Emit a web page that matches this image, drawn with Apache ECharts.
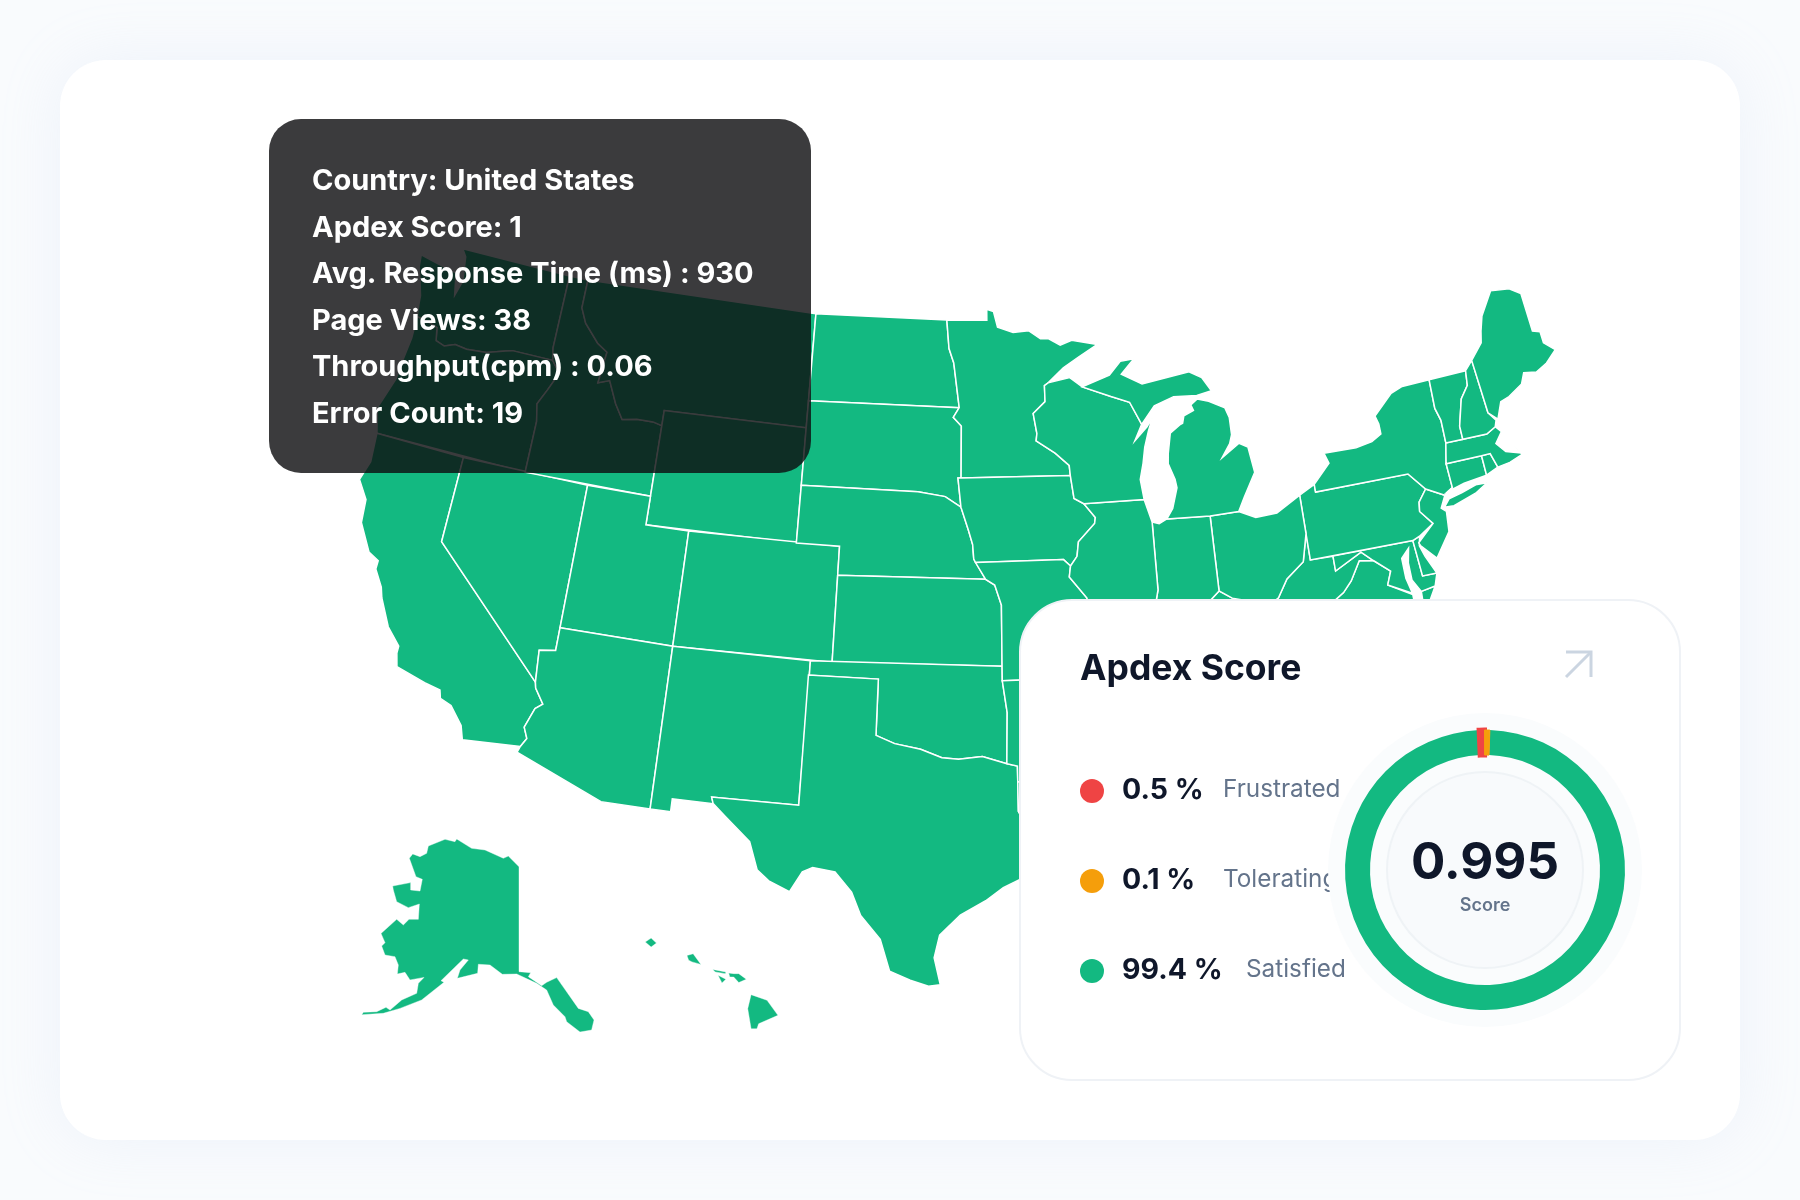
<!DOCTYPE html>
<html>
<head>
<meta charset="utf-8">
<title>Apdex Score</title>
<style>
    html, body { margin: 0; padding: 0; background: #f9fbfd; }
    #chart { width: 1800px; height: 1200px; }
</style>
<script src="https://cdn.jsdelivr.net/npm/echarts@6/dist/echarts.min.js"></script>
</head>
<body>
<div id="chart"></div>
<script>
(function() {

    // tooltip and score card content
    var tooltipLines = [
        'Country: United States',
        'Apdex Score: 1',
        'Avg. Response Time (ms) : 930',
        'Page Views: 38',
        'Throughput(cpm) : 0.06',
        'Error Count: 19'
    ];
    var cardTitle = 'Apdex Score';
    var scoreValue = '0.995';
    var scoreLabel = 'Score';
    var apdexNames = ['Frustrated', 'Tolerating', 'Satisfied'];
    var apdexValues = [0.5, 0.1, 99.4];
    var apdexColors = ['#ef4444', '#f59e0b', '#13b981'];

    // state outlines, lon/lat pairs, one list per ring
    var WA = [[-124.73,48.38,-123.1,48.15,-122.75,48.12,-122.5,47.35,-122.3,47.9,-122.5,48.75,-122.76,49,-117.03,49,-117.04,46.42,-116.92,45.99,-118.98,46,-119.3,45.93,-120.2,45.72,-121.2,45.65,-121.8,45.7,-122.3,45.55,-122.76,45.65,-122.9,46.1,-123.4,46.2,-124,46.27,-124.1,46.7,-124.15,47,-124.4,47.5,-124.65,47.95]];
    var OR = [[-124,46.27,-123.4,46.2,-122.9,46.1,-122.76,45.65,-122.3,45.55,-121.8,45.7,-121.2,45.65,-120.2,45.72,-119.3,45.93,-118.98,46,-116.92,45.99,-116.46,45.6,-116.85,44.95,-117.2,44.4,-117.03,43.8,-117.03,42,-124.21,42,-124.55,42.84,-124.1,44,-124.05,44.7,-123.95,45.5]];
    var CA = [[-124.21,42,-120,42,-120,39,-114.63,35,-114.57,34.8,-114.14,34.3,-114.43,34.1,-114.72,33.4,-114.52,33.03,-114.72,32.72,-117.12,32.53,-117.3,33,-117.9,33.6,-118.4,33.75,-118.5,34.03,-119.2,34.15,-120.5,34.45,-120.65,34.9,-120.65,35.15,-121.3,35.7,-121.9,36.6,-122.05,36.95,-122.5,37.5,-122.5,37.8,-123,38,-123.7,38.9,-123.8,39.7,-124.35,40.3,-124.1,41]];
    var NV = [[-120,42,-114.04,42,-114.04,36.2,-114.74,36.1,-114.63,35,-120,39]];
    var ID = [[-117.03,49,-116.05,49,-116.05,48,-115.7,47.5,-114.9,46.9,-114.35,46.65,-114.5,45.55,-113.95,45.7,-113.45,44.95,-113,44.45,-112.3,44.55,-111.5,44.55,-111.05,44.47,-111.05,42,-117.03,42,-117.03,43.8,-117.2,44.4,-116.85,44.95,-116.46,45.6,-116.92,45.99,-117.04,46.42]];
    var MT = [[-116.05,49,-104.05,49,-104.05,45,-111.05,45,-111.05,44.47,-111.5,44.55,-112.3,44.55,-113,44.45,-113.45,44.95,-113.95,45.7,-114.5,45.55,-114.35,46.65,-114.9,46.9,-115.7,47.5,-116.05,48]];
    var WY = [[-111.05,45,-104.05,45,-104.05,41,-111.05,41]];
    var UT = [[-114.04,42,-111.05,42,-111.05,41,-109.05,41,-109.05,37,-114.04,37]];
    var CO = [[-109.05,41,-102.05,41,-102.05,37,-109.05,37]];
    var AZ = [[-114.04,37,-109.05,37,-109.05,31.33,-111.07,31.33,-114.81,32.5,-114.72,32.72,-114.52,33.03,-114.72,33.4,-114.43,34.1,-114.14,34.3,-114.57,34.8,-114.63,35,-114.74,36.1,-114.04,36.2]];
    var NM = [[-109.05,37,-103,37,-103.04,32,-106.62,32,-106.53,31.78,-108.21,31.78,-108.21,31.33,-109.05,31.33]];
    var ND = [[-104.05,49,-97.23,49,-97.1,48,-96.85,47.5,-96.56,45.94,-104.05,45.94]];
    var SD = [[-104.05,45.94,-96.56,45.94,-96.85,45.6,-96.45,45.3,-96.45,43.5,-96.6,43.5,-96.45,42.49,-97.2,42.85,-98.5,43,-104.05,43]];
    var NE = [[-104.05,43,-98.5,43,-97.2,42.85,-96.45,42.49,-96.1,41.7,-95.9,41.2,-95.85,40.7,-95.31,40,-102.05,40,-102.05,41,-104.05,41]];
    var KS = [[-102.05,40,-95.31,40,-94.9,39.8,-94.61,39.11,-94.62,37,-102.05,37]];
    var OK = [[-103,37,-94.62,37,-94.62,36.5,-94.43,35.4,-94.48,33.64,-95.5,33.9,-96.5,33.8,-97.2,33.85,-98.1,34.13,-99.2,34.3,-100,34.56,-100,36.5,-103,36.5]];
    var TX = [[-103.04,36.5,-100,36.5,-100,34.56,-99.2,34.3,-98.1,34.13,-97.2,33.85,-96.5,33.8,-95.5,33.9,-94.48,33.64,-94.04,33.55,-94.04,33,-94.04,31.99,-93.55,31.2,-93.7,30.1,-93.85,29.7,-94.7,29.35,-95.4,28.9,-96.4,28.4,-97.2,27.7,-97.4,26.9,-97.15,25.96,-97.6,25.9,-98.3,26.1,-99.1,26.4,-99.5,27.5,-100.3,28.3,-100.7,29.1,-101.4,29.77,-102.3,29.88,-102.7,29.7,-103.15,28.98,-104,29.3,-104.5,29.65,-104.9,30.6,-106,31.4,-106.53,31.78,-106.62,32,-103.04,32]];
    var MN = [[-97.23,49,-95.15,49,-95.15,49.38,-94.8,49.3,-94.6,48.75,-93.8,48.55,-93,48.6,-92.4,48.3,-92,48.3,-91.4,48.05,-90.8,48.2,-89.5,48,-90.5,47.6,-91.3,47.25,-92.1,46.75,-92.29,46.66,-92.29,46.1,-92.9,45.7,-92.75,45,-92.8,44.75,-91.9,44.3,-91.25,43.85,-91.22,43.5,-96.45,43.5,-96.45,45.3,-96.85,45.6,-96.56,45.94,-96.85,47.5,-97.1,48]];
    var IA = [[-96.6,43.5,-96.45,43.5,-91.22,43.5,-91.1,42.7,-90.65,42.5,-90.15,42,-90.2,41.8,-91,41.2,-91.1,40.7,-91.42,40.38,-91.73,40.61,-95.77,40.58,-95.85,40.7,-95.9,41.2,-96.1,41.7,-96.45,42.49]];
    var MO = [[-95.77,40.58,-91.73,40.61,-91.42,40.38,-91.5,40,-90.75,39.25,-90.7,38.9,-90.2,38.7,-90.2,38.3,-89.5,37.3,-89.15,37,-89.4,36.5,-89.7,36,-90.37,36,-90.15,36.5,-94.62,36.5,-94.62,37,-94.61,39.11,-94.9,39.8,-95.31,40]];
    var AR = [[-94.62,36.5,-90.15,36.5,-90.37,36,-89.7,36,-90.1,35.1,-90.6,34.7,-91.1,33.9,-91.17,33,-94.04,33,-94.04,33.55,-94.48,33.64,-94.43,35.4]];
    var LA = [[-94.04,33,-91.17,33,-91,32.4,-91.6,31,-89.73,31,-89.6,30.2,-89.4,29.8,-89.1,29.1,-90.2,29.1,-91.3,29.4,-92.2,29.55,-93.85,29.7,-93.7,30.1,-93.55,31.2,-94.04,31.99]];
    var MS = [[-90.1,35.1,-88.2,35,-88.1,34.9,-88.47,31.9,-88.4,30.2,-89.6,30.2,-89.73,31,-91.6,31,-91,32.4,-91.17,33,-91.1,33.9,-90.6,34.7]];
    var AL = [[-88.2,35,-85.6,35,-85.18,32.87,-85,32.3,-85,31,-87.6,31,-87.5,30.3,-88.4,30.2,-88.47,31.9,-88.1,34.9]];
    var GA = [[-85.6,35,-83.1,35,-83.35,34.7,-82.9,34.5,-81.9,33.4,-81.4,32.6,-80.85,32.03,-81.4,31,-81.45,30.7,-82.2,30.55,-84.86,30.7,-85,31,-85,32.3,-85.18,32.87]];
    var FL = [[-87.6,31,-85,31,-84.86,30.7,-82.2,30.55,-81.45,30.7,-81.2,29.7,-80.5,28.4,-80.03,26.8,-80.3,25.3,-81.1,25.15,-81.8,26.1,-82.7,27.7,-82.8,29,-83.9,30,-84.4,29.95,-85.3,29.7,-86.3,30.4,-87.5,30.3]];
    var SC = [[-83.1,35,-82.3,35.2,-81.05,35.15,-80.8,34.82,-79.67,34.8,-78.55,33.86,-79.2,33.2,-80.85,32.03,-81.4,32.6,-81.9,33.4,-82.9,34.5,-83.35,34.7]];
    var NC = [[-84.32,35,-84.05,35.4,-83,36,-81.68,36.59,-75.87,36.55,-75.5,35.25,-76.5,34.7,-77.9,33.9,-78.55,33.86,-79.67,34.8,-80.8,34.82,-81.05,35.15,-82.3,35.2,-83.1,35]];
    var TN = [[-90.1,35.1,-89.7,36,-89.4,36.5,-88.07,36.5,-88.05,36.68,-83.68,36.6,-81.68,36.59,-83,36,-84.05,35.4,-84.32,35,-85.6,35,-88.2,35]];
    var KY = [[-89.4,36.5,-89.15,37,-88.5,37.1,-88.05,37.8,-87.1,37.8,-86.5,37.95,-85.9,38,-85.4,38.7,-84.8,39.1,-84.25,38.8,-83.6,38.65,-82.6,38.42,-82.6,38.1,-81.97,37.54,-83.68,36.6,-88.05,36.68,-88.07,36.5]];
    var VA = [[-83.68,36.6,-81.97,37.54,-81.3,37.3,-80.3,37.5,-79.95,38.1,-79.3,38.42,-78.87,38.77,-78.35,39.4,-77.72,39.32,-77.05,38.85,-77.3,38.4,-76.3,37.9,-76.3,37,-75.95,36.9,-75.87,36.55,-81.68,36.59],[-75.9,37.95,-75.25,38.03,-75.95,37.15]];
    var WV = [[-82.6,38.42,-82.6,38.1,-81.97,37.54,-81.3,37.3,-80.3,37.5,-79.95,38.1,-79.3,38.42,-78.87,38.77,-78.35,39.4,-77.72,39.32,-78.2,39.68,-79.48,39.2,-79.48,39.72,-80.52,39.72,-80.52,40.64,-80.85,39.7,-81.7,39.2,-82.2,38.6]];
    var MD = [[-79.48,39.72,-75.79,39.72,-75.7,38.46,-75.05,38.45,-75.25,38.03,-75.9,37.95,-76.2,38.4,-76.2,39,-76.05,39.5,-76.45,39.2,-76.45,38.5,-76.3,37.95,-77.3,38.4,-77.05,38.85,-77.72,39.32,-78.2,39.68,-79.48,39.2]];
    var DE = [[-75.79,39.72,-75.45,39.82,-75.55,39.5,-75.4,39.1,-75.05,38.45,-75.7,38.46]];
    var PA = [[-80.52,41.98,-79.76,42.27,-79.76,42,-75.35,42,-74.7,41.36,-75.13,40.97,-75.2,40.65,-74.72,40.15,-75.45,39.82,-75.79,39.72,-80.52,39.72]];
    var NJ = [[-74.7,41.36,-73.9,41,-74.2,40.6,-74,40.45,-74.1,39.75,-74.9,38.95,-75.5,39.5,-75.55,39.6,-74.72,40.15,-75.2,40.65,-75.13,40.97]];
    var NY = [[-79.76,42.27,-78.9,42.9,-79.05,43.27,-77.5,43.25,-76.7,43.35,-76.2,43.55,-76.2,43.9,-76.3,44.2,-75.3,44.85,-74.7,45,-73.34,45.01,-73.4,44,-73.25,43.55,-73.28,42.75,-73.5,42.05,-73.48,41.2,-73.73,41.1,-73.9,41,-74.7,41.36,-75.35,42,-79.76,42],[-74.05,40.6,-73.75,40.85,-73.1,40.95,-72.4,41.1,-71.87,41.07,-72.5,40.82,-73.6,40.58]];
    var CT = [[-73.5,42.05,-71.8,42.02,-71.8,41.33,-72.9,41.25,-73.73,41.1,-73.48,41.2]];
    var RI = [[-71.8,42.02,-71.38,42.02,-71.2,41.5,-71.8,41.33]];
    var MA = [[-73.28,42.75,-72.46,42.73,-71.3,42.7,-70.82,42.87,-70.6,42.65,-71,42.3,-70.65,41.95,-70.05,41.78,-70.25,42.07,-69.95,41.7,-70.6,41.55,-71.2,41.5,-71.38,42.02,-71.8,42.02,-73.5,42.05]];
    var VT = [[-73.34,45.01,-71.5,45.01,-71.6,44.5,-72.05,44.1,-72.45,43.2,-72.46,42.73,-73.28,42.75,-73.25,43.55,-73.4,44]];
    var NH = [[-71.5,45.01,-71.08,45.3,-70.98,43.4,-70.7,43.08,-70.82,42.87,-71.3,42.7,-72.46,42.73,-72.45,43.2,-72.05,44.1,-71.6,44.5]];
    var ME = [[-71.08,45.3,-70.4,45.8,-70.25,46.2,-70,46.7,-69.23,47.46,-68.3,47.35,-67.8,47.07,-67.8,45.7,-67.45,45.6,-67.45,45.2,-67,44.85,-67.6,44.5,-68.2,44.3,-68.8,44.4,-69.05,44.05,-69.8,43.75,-70.25,43.65,-70.6,43.1,-70.98,43.4]];
    var OH = [[-84.8,41.7,-83.45,41.73,-82.7,41.45,-81.7,41.5,-80.52,41.98,-80.52,40.64,-80.85,39.7,-81.7,39.2,-82.2,38.6,-82.6,38.42,-83.6,38.65,-84.25,38.8,-84.8,39.1]];
    var IN = [[-87.52,41.7,-87.2,41.62,-86.82,41.76,-84.8,41.7,-84.8,39.1,-85.4,38.7,-85.9,38,-86.5,37.95,-87.1,37.8,-88.05,37.8,-87.53,39.35]];
    var IL = [[-90.65,42.5,-87.8,42.5,-87.52,41.7,-87.53,39.35,-88.05,37.8,-88.5,37.1,-89.15,37,-89.5,37.3,-90.2,38.3,-90.2,38.7,-90.7,38.9,-90.75,39.25,-91.5,40,-91.42,40.38,-91.1,40.7,-91,41.2,-90.2,41.8,-90.15,42]];
    var WI = [[-92.1,46.75,-91,46.9,-90.4,46.55,-89,46.15,-88.1,45.9,-87.6,45.1,-88,44.55,-87.35,45,-87.05,45.29,-87.3,44.85,-87.55,44.3,-87.7,43.75,-87.9,43.2,-87.8,42.5,-90.65,42.5,-91.1,42.7,-91.22,43.5,-91.25,43.85,-91.9,44.3,-92.8,44.75,-92.75,45,-92.9,45.7,-92.29,46.1,-92.29,46.66]];
    var MI = [[-86.82,41.76,-84.8,41.7,-83.45,41.73,-83.1,42.2,-82.45,43,-82.6,43.9,-83,44.07,-83.9,43.65,-83.45,44.1,-83.3,44.4,-83.3,45,-83.45,45.35,-84.2,45.65,-84.75,45.78,-85.1,45.6,-85,45.4,-85.5,45.25,-85.6,45,-85.75,44.95,-86.25,44.7,-86.45,44,-86.5,43.65,-86.25,43.1,-86.2,42.8,-86.5,42.1],[-90.4,46.55,-89,46.9,-88.4,47.35,-87.7,47.4,-88.4,46.9,-87.4,46.5,-85,46.75,-84.4,46.5,-84,46,-84.75,45.9,-85.9,45.95,-86.9,45.7,-87.6,45.1,-88.1,45.9,-89,46.15]];
    var AK = [[-152.33,71.67,-149.61,70.87,-147.18,70.73,-143.85,70.02,-142.94,70.21,-141,69.3,-141,60.33,-138.88,60.24,-139.3,59.9,-136.88,59.13,-135.97,59.42,-134.15,59.82,-130.21,57.19,-128.4,56.91,-127.36,56.2,-127.8,55.34,-129.91,55.17,-132.33,56.05,-132.64,56.48,-134.76,57.48,-135.97,58.76,-137.79,59.33,-141.42,60.13,-144.03,60.1,-146.27,60.9,-148.39,60.96,-148.52,60.19,-152.21,59.76,-151.73,60.47,-150.21,61.33,-151.12,61.41,-155.18,59.56,-154.64,59.42,-158.7,57.91,-162.64,57.19,-165.67,56.77,-169.6,56.65,-169.3,56.85,-166.88,56.91,-165.18,57.28,-164.45,57.05,-162.33,57.91,-159.6,58.48,-159.3,59.33,-158.27,59.84,-160.82,59.62,-161.73,60.27,-163.12,60.13,-162.94,60.9,-163.55,61.61,-165.36,61.75,-165.97,62.52,-165.36,62.81,-166.09,63.6,-163.24,64.8,-162.03,64.32,-161,64.8,-159.3,64.8,-159.12,66.11,-161.12,65.8,-163.24,66.31,-163.85,67.31,-163.97,67.65,-160.7,67.94,-160.7,67.31,-159,67.22,-158.58,68.22,-159.73,68.45,-160.94,70.02,-160.33,70.39,-159,70.16,-157.79,70.44,-157.48,71.07,-154.45,71.64,-152.64,71.44]];
    var HI = [[-155.89,20.22,-155.32,20.02,-154.93,19.48,-155.62,19.18,-155.68,19,-155.89,19,-156.01,19.72],[-156.69,20.99,-156.51,20.97,-156.33,20.97,-156.06,20.77,-156.33,20.65,-156.51,20.85,-156.65,20.85],[-157.26,21.12,-156.79,21.03,-156.81,20.97,-157.17,21.03],[-157.07,20.91,-156.79,20.77,-156.93,20.64],[-158.18,21.62,-157.96,21.68,-157.68,21.3,-158,21.39,-158.12,21.45],[-159.67,22.1,-159.46,22.24,-159.27,22.06,-159.46,21.92]];

    var stateNames = ['Washington','Oregon','California','Nevada','Idaho','Montana','Wyoming','Utah','Colorado','Arizona','New Mexico','North Dakota','South Dakota','Nebraska','Kansas','Oklahoma','Texas','Minnesota','Iowa','Missouri','Arkansas','Louisiana','Mississippi','Alabama','Georgia','Florida','South Carolina','North Carolina','Tennessee','Kentucky','Virginia','West Virginia','Maryland','Delaware','Pennsylvania','New Jersey','New York','Connecticut','Rhode Island','Massachusetts','Vermont','New Hampshire','Maine','Ohio','Indiana','Illinois','Wisconsin','Michigan','Alaska','Hawaii'];
    var stateShapes = [WA,OR,CA,NV,ID,MT,WY,UT,CO,AZ,NM,ND,SD,NE,KS,OK,TX,MN,IA,MO,AR,LA,MS,AL,GA,FL,SC,NC,TN,KY,VA,WV,MD,DE,PA,NJ,NY,CT,RI,MA,VT,NH,ME,OH,IN,IL,WI,MI,AK,HI];

    var RAD = Math.PI / 180;
    var n = (Math.sin(29.5 * RAD) + Math.sin(45.5 * RAD)) / 2;
    var c = Math.pow(Math.cos(29.5 * RAD), 2) + 2 * n * Math.sin(29.5 * RAD);
    var rho0 = Math.sqrt(c - 2 * n * Math.sin(37.5 * RAD)) / n;

    // albers for the lower 48, plain insets for alaska and hawaii. output is page pixels
    function project(p) {
        var lon = p[0], lat = p[1];
        if (lat > 50 && lon < -125) {
            return [519 + (lon + 141) * 5.5, 972 - (lat - 60.3) * 11.7];
        }
        if (lat < 23 && lon < -150) {
            return [762 + (lon + 155.5) * 28, 1012 - (lat - 19.6) * 28];
        }
        var rho = Math.sqrt(c - 2 * n * Math.sin(lat * RAD)) / n;
        var theta = n * (lon + 96) * RAD;
        return [970.5 + 1658 * rho * Math.sin(theta), 652 - 1648 * (rho0 - rho * Math.cos(theta))];
    }

    function unproject(p) {
        return p;
    }

    function toRing(flat) {
        var ring = [];
        for (var i = 0; i < flat.length; i += 2) {
            ring.push([flat[i], flat[i + 1]]);
        }
        ring.push(ring[0]);
        return ring;
    }

    var minX = Infinity, maxX = -Infinity, minY = Infinity, maxY = -Infinity;
    var features = stateNames.map(function(name, i) {
        var rings = stateShapes[i].map(toRing);
        rings.forEach(function(ring) {
            ring.forEach(function(pt) {
                var xy = project(pt);
                minX = Math.min(minX, xy[0]);
                maxX = Math.max(maxX, xy[0]);
                minY = Math.min(minY, xy[1]);
                maxY = Math.max(maxY, xy[1]);
            });
        });
        return {
            type: 'Feature',
            properties: { name: name },
            geometry: {
                type: 'MultiPolygon',
                coordinates: rings.map(function(ring) { return [ring]; })
            }
        };
    });

    echarts.registerMap('usa', { type: 'FeatureCollection', features: features });

    var FONT = 'Inter';
    var graphics = [];

    function addText(x, y, text, size, weight, color, z) {
        graphics.push({
            type: 'text',
            x: x,
            y: y,
            z: z,
            silent: true,
            style: {
                text: text,
                fontFamily: FONT,
                fontSize: size,
                fontWeight: weight,
                fill: color,
                verticalAlign: 'middle'
            }
        });
    }

    // page card behind the map
    graphics.push({
        type: 'rect',
        z: 0,
        silent: true,
        shape: { x: 60, y: 60, width: 1680, height: 1080, r: 46 },
        style: { fill: '#ffffff', shadowBlur: 60, shadowColor: 'rgba(190,205,240,0.18)' }
    });

    // tooltip
    graphics.push({
        type: 'rect',
        z: 10,
        silent: true,
        shape: { x: 269, y: 119, width: 542, height: 354, r: 32 },
        style: { fill: 'rgba(13,14,16,0.81)' }
    });
    tooltipLines.forEach(function(line, i) {
        addText(312, 181.5 + i * 46.5, line, 29, 700, '#ffffff', 11);
    });

    // score card
    graphics.push({
        type: 'rect',
        z: 12,
        silent: true,
        shape: { x: 1020, y: 600, width: 660, height: 480, r: 52 },
        style: { fill: '#ffffff', stroke: '#eff2f6', lineWidth: 2 }
    });
    addText(1080, 669, cardTitle, 35.5, 700, '#0f172a', 13);
    graphics.push({
        type: 'polyline',
        z: 13,
        silent: true,
        shape: { points: [[1566, 677], [1591, 652]] },
        style: { stroke: '#cbd5e1', lineWidth: 3, fill: null }
    });
    graphics.push({
        type: 'polyline',
        z: 13,
        silent: true,
        shape: { points: [[1566, 652], [1591, 652], [1591, 677]] },
        style: { stroke: '#cbd5e1', lineWidth: 3, fill: null }
    });

    var rowY = [791, 881, 971];
    var nameX = [1223, 1223, 1246];
    apdexNames.forEach(function(name, i) {
        graphics.push({
            type: 'circle',
            z: 13,
            silent: true,
            shape: { cx: 1092, cy: rowY[i], r: 12 },
            style: { fill: apdexColors[i] }
        });
        addText(1122, rowY[i] - 1, apdexValues[i] + ' %', 28.5, 700, '#0f172a', 13);
        addText(nameX[i], rowY[i] - 1, name, 24.3, 400, '#64748b', 13);
    });

    // donut backdrop, it hides the end of the longer labels
    graphics.push({
        type: 'circle',
        z: 14,
        silent: true,
        shape: { cx: 1485, cy: 870, r: 157 },
        style: { fill: '#fafcfd' }
    });
    graphics.push({
        type: 'circle',
        z: 14,
        silent: true,
        shape: { cx: 1485, cy: 870, r: 98 },
        style: { fill: '#f8fafc', stroke: '#eff3f6', lineWidth: 2 }
    });
    graphics.push({
        type: 'text',
        z: 16,
        silent: true,
        x: 1485,
        y: 864,
        style: { text: scoreValue, fontFamily: FONT, fontSize: 51, fontWeight: 700, fill: '#0f172a', align: 'center', verticalAlign: 'middle' }
    });
    graphics.push({
        type: 'text',
        z: 16,
        silent: true,
        x: 1485,
        y: 906,
        style: { text: scoreLabel, fontFamily: FONT, fontSize: 18, fontWeight: 600, fill: '#64748b', align: 'center', verticalAlign: 'middle' }
    });

    var chart = echarts.init(document.getElementById('chart'));

    var mapData = stateNames.map(function(name) {
        // the insets have thin strokes so the small islands keep their size
        var inset = name === 'Alaska' || name === 'Hawaii';
        return { name: name, value: 1, itemStyle: inset ? { borderWidth: 0.4 } : undefined };
    });

    chart.setOption({
        animation: false,
        backgroundColor: 'transparent',
        graphic: { elements: graphics },
        series: [{
            type: 'map',
            map: 'usa',
            z: 2,
            silent: true,
            roam: false,
            selectedMode: false,
            projection: { project: project, unproject: unproject },
            layoutCenter: [(minX + maxX) / 2, (minY + maxY) / 2],
            layoutSize: Math.max(maxX - minX, maxY - minY),
            label: { show: false },
            itemStyle: { areaColor: '#13b981', borderColor: '#ffffff', borderWidth: 1.5 },
            emphasis: { disabled: true },
            data: mapData
        }, {
            type: 'pie',
            z: 15,
            silent: true,
            center: [1485, 870],
            radius: [115, 140],
            startAngle: 88,
            minAngle: 2.2,
            clockwise: true,
            label: { show: false },
            labelLine: { show: false },
            emphasis: { disabled: true },
            data: [
                { name: apdexNames[2], value: apdexValues[2], itemStyle: { color: apdexColors[2] } },
                { name: apdexNames[0], value: apdexValues[0], itemStyle: { color: apdexColors[0], borderColor: apdexColors[0], borderWidth: 5, borderJoin: 'miter' } },
                { name: apdexNames[1], value: apdexValues[1], itemStyle: { color: apdexColors[1], borderColor: apdexColors[1], borderWidth: 1, borderJoin: 'miter' } }
            ]
        }]
    });

})();
</script>
</body>
</html>
